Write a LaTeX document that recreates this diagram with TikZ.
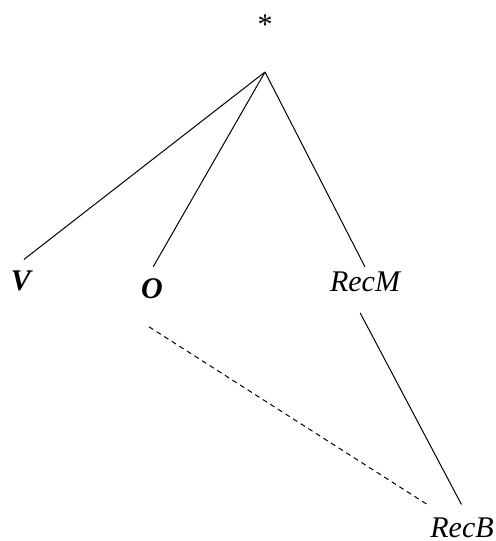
\documentclass[tikz,border=0pt]{standalone}
\usepackage{fontspec}
\setmainfont{Liberation Serif}
\usetikzlibrary{positioning}
\tikzset{
  leaf/.style={inner sep=0pt,anchor=base,font=\fontsize{15}{18}\selectfont\itshape},
  cat/.style={leaf,font=\fontsize{15}{18}\selectfont\bfseries\itshape}
}

\begin{document}
\begin{tikzpicture}[x=.5pt,y=-.5pt,line width=.5pt]
  \useasboundingbox (0,0) rectangle (495,541);
  \node[font=\fontsize{15}{18}\selectfont] (star) at (265,25) {*};
  \coordinate (top) at (265,72);
  \node[cat] (V) at (21,290) {V};
  \node[cat] (O) at (152,298) {O};
  \node[leaf] (RecM) at (365,291) {RecM};
  \node[leaf] (RecB) at (462,537) {RecB};
  \draw[shorten >=8.5pt] (top) -- (V.north west);
  \draw[shorten >=6.3pt] (top) -- ([xshift=-2.5pt]O.north);
  \draw[shorten >=2.2pt] (top) -- ([xshift=1pt]RecM.north);
  \draw[shorten <=11.9pt,shorten >=7pt] ([xshift=-8pt]RecM.south) -- ([xshift=3pt]RecB.north);
  \draw[dash pattern=on 2.5pt off 2pt] ([shift={(-1.5pt,-14pt)}]O.south) -- ([shift={(-1pt,6pt)}]RecB.north west);
\end{tikzpicture}
\end{document}
